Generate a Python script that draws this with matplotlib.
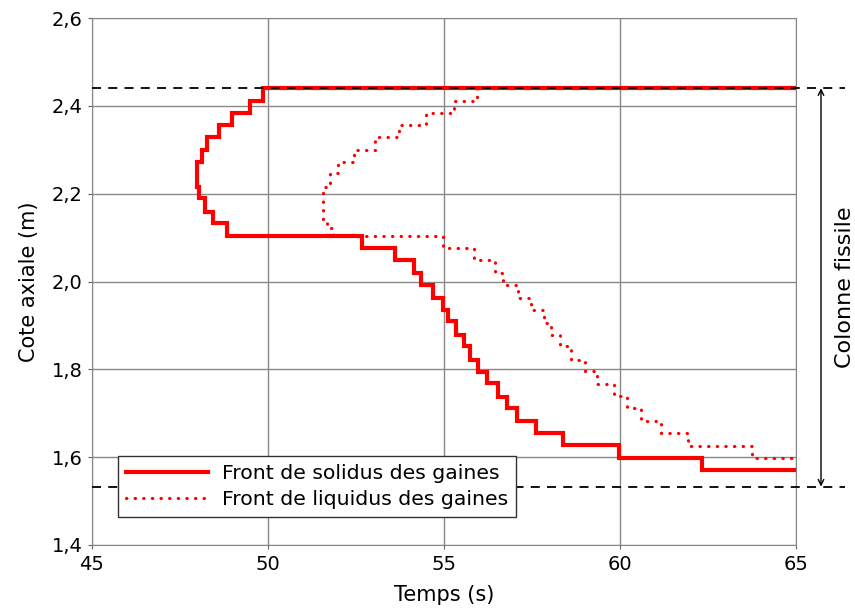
#!/usr/bin/env python3

import numpy as np
import matplotlib
matplotlib.use("Agg")
import matplotlib.pyplot as plt

# staircase fronts: levels (m) and the times (s) of the vertical steps between them
solidus_levels = [2.44, 2.41, 2.383, 2.357, 2.329, 2.30, 2.273, 2.216, 2.19, 2.159,
                  2.133, 2.104, 2.076, 2.049, 2.019, 1.991, 1.963, 1.935, 1.909,
                  1.878, 1.852, 1.821, 1.795, 1.768, 1.738, 1.711, 1.682, 1.654,
                  1.628, 1.599, 1.571]
solidus_times = [49.87, 49.49, 48.97, 48.62, 48.28, 48.12, 47.97, 48.05, 48.21, 48.43,
                 48.83, 52.66, 53.61, 54.15, 54.34, 54.70, 54.96, 55.12, 55.33, 55.57,
                 55.74, 55.96, 56.21, 56.54, 56.78, 57.07, 57.61, 58.37, 59.98, 62.32]

liquidus_levels = [2.44, 2.412, 2.383, 2.357, 2.329, 2.30, 2.273, 2.247, 2.216, 2.14,
                   2.122, 2.104, 2.076, 2.049, 2.02, 1.991, 1.963, 1.935, 1.906, 1.878,
                   1.852, 1.821, 1.796, 1.767, 1.739, 1.711, 1.683, 1.654, 1.626, 1.599]
liquidus_times = [55.93, 55.28, 54.49, 53.72, 53.04, 52.44, 52.0, 51.75, 51.55, 51.68,
                  51.85, 54.96, 55.85, 56.45, 56.68, 57.1, 57.46, 57.83, 58.03, 58.3,
                  58.62, 59.0, 59.34, 59.84, 60.2, 60.6, 61.16, 61.92, 63.74]

fissile_top = 2.44
fissile_bottom = 1.533

x_ticks = [45, 50, 55, 60, 65]
y_ticks = [1.4, 1.6, 1.8, 2.0, 2.2, 2.4, 2.6]
t_end = 65


def staircase(levels, times):
    # build the path: horizontal at each level, vertical at each step time
    t = [t_end]
    z = [levels[0]]
    for i, ti in enumerate(times):
        t += [ti, ti]
        z += [levels[i], levels[i + 1]]
    t.append(t_end)
    z.append(levels[-1])
    return np.array(t), np.array(z)


fig = plt.figure(figsize=(8.55, 6.08), dpi=100)
ax = fig.add_axes([92 / 855, 1 - 545 / 608, 704 / 855, 527 / 608])

ts, zs = staircase(solidus_levels, solidus_times)
tl, zl = staircase(liquidus_levels, liquidus_times)

ax.plot(tl, zl, color="red", lw=2.3, linestyle=(0, (0.1, 2.6)),
        dash_capstyle="round", label="Front de liquidus des gaines", zorder=3)
ax.plot(ts, zs, color="red", lw=3.0, solid_joinstyle="miter",
        label="Front de solidus des gaines", zorder=4)

# fissile column markers, extending past the right edge
trans = ax.get_yaxis_transform()
for z in (fissile_top, fissile_bottom):
    ax.plot([0, 1.07], [z, z], transform=trans, color="black", lw=1.3,
            linestyle=(0, (5, 4)), clip_on=False, zorder=5)
ax.annotate("", xy=(1.0355, fissile_top), xytext=(1.0355, fissile_bottom),
            xycoords=trans, textcoords=trans,
            arrowprops=dict(arrowstyle="<->", color="black", lw=1.0,
                            shrinkA=0, shrinkB=0))
ax.text(1.07, (fissile_top + fissile_bottom) / 2, "Colonne fissile",
        transform=trans, rotation=90, ha="center", va="center", fontsize=16)

ax.set_xlim(45, 65)
ax.set_ylim(1.4, 2.6)
ax.set_xticks(x_ticks)
ax.set_yticks(y_ticks)
ax.set_xticklabels([str(v) for v in x_ticks], fontsize=14)
ax.set_yticklabels([f"{v:.1f}".replace(".", ",") for v in y_ticks], fontsize=14)
ax.tick_params(length=3, direction="out", color="#666666", pad=4)
ax.grid(True, color="#888888", lw=1.0)
for s in ax.spines.values():
    s.set_color("#888888")

ax.set_xlabel("Temps (s)", fontsize=15, labelpad=8)
ax.set_ylabel("Cote axiale (m)", fontsize=15, labelpad=9)

handles, labels = ax.get_legend_handles_labels()
leg = ax.legend(handles[::-1], labels[::-1], loc="lower left",
                bbox_to_anchor=(0.037, 0.053), fontsize=14.7, handlelength=4.0,
                handletextpad=0.7, fancybox=False, framealpha=1,
                edgecolor="#333333", borderaxespad=0, labelspacing=0.35,
                borderpad=0.4)
leg.get_frame().set_linewidth(1.0)

fig.savefig("out.png", dpi=100)
